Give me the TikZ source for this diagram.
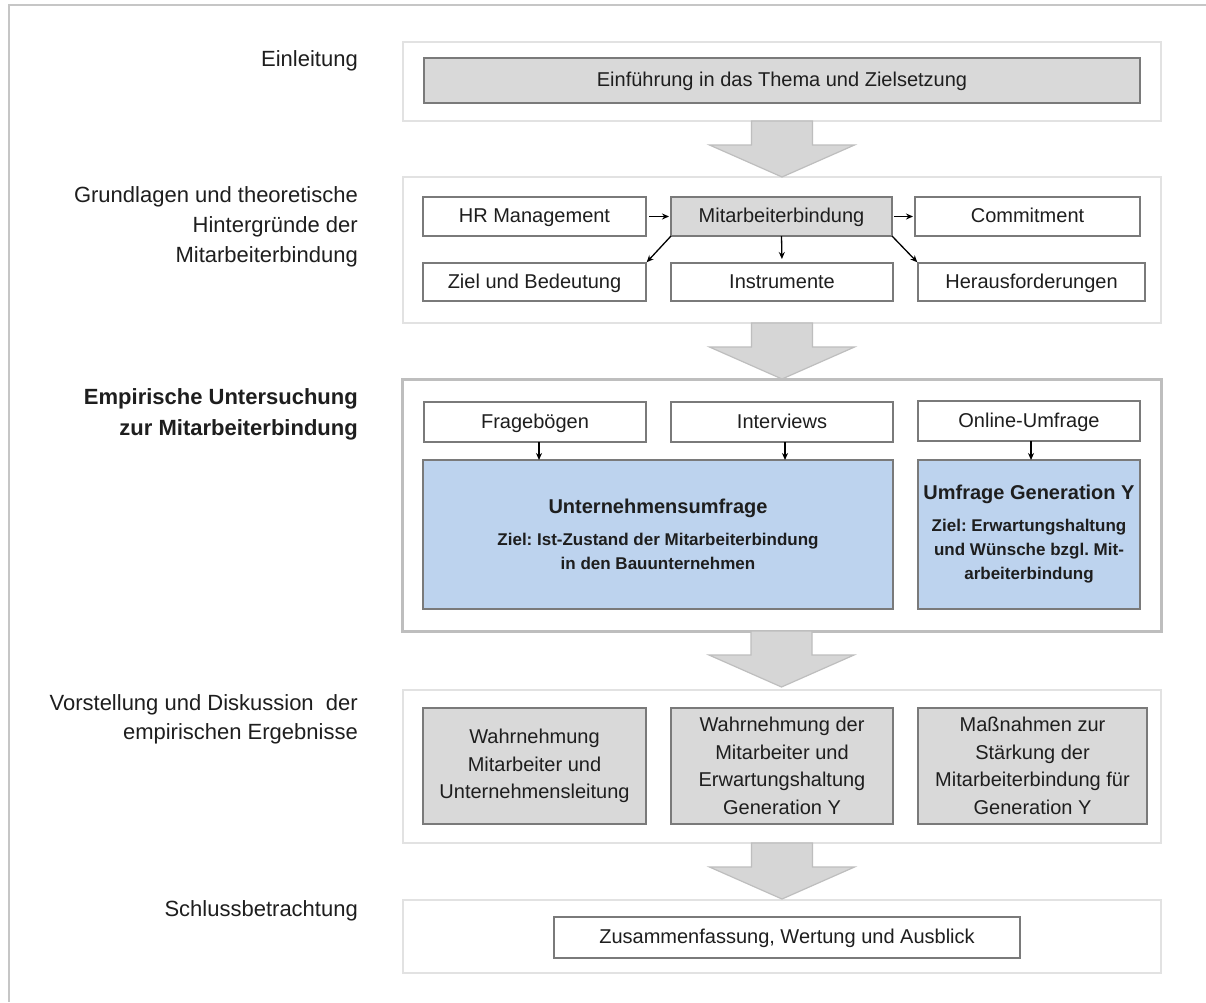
\documentclass[tikz,border=0pt]{standalone}
\usepackage{fontspec}
\setmainfont{Liberation Sans}
\usetikzlibrary{arrows.meta}
\frenchspacing
\definecolor{boxgray}{HTML}{D9D9D9}
\definecolor{boxline}{HTML}{7A7A7A}
\definecolor{contline}{HTML}{E2E2E2}
\definecolor{empline}{HTML}{BEBEBE}
\definecolor{bluefill}{HTML}{BDD3EE}
\definecolor{framegray}{HTML}{C6C6C6}
\definecolor{arrowfill}{HTML}{D6D6D6}
\definecolor{arrowline}{HTML}{BEBEBE}
\definecolor{txt}{HTML}{1E1E1E}
\begin{document}
\begin{tikzpicture}[x=1pt,y=-1pt,
  wbox/.style={draw=boxline, line width=1.3pt, fill=white, inner sep=0pt, outer sep=0pt,
    align=center, font=\fontsize{20}{27.5}\selectfont, text=txt},
  sline/.style={text height=14.4pt, text depth=1.5pt},
  gbox/.style={wbox, fill=boxgray},
  bbox/.style={wbox, fill=bluefill, font=\fontsize{17}{24}\selectfont\bfseries},
  cont/.style={draw=contline, line width=1.5pt, fill=white, inner sep=0pt, outer sep=0pt},
  lab/.style={anchor=east, align=right, inner sep=0pt, text=txt, font=\fontsize{22}{30}\selectfont},
  conn/.style={-{Stealth[length=7pt,width=6pt]}, line width=1.3pt, black},
  bigarrow/.pic={\draw[draw=arrowline, fill=arrowfill, line width=1.2pt, line join=miter]
    (-30.5,0) -- (30.5,0) -- (30.5,24) -- (72.5,24) -- (0,56) -- (-72.5,24) -- (-30.5,24) -- cycle;}
]
\useasboundingbox (0,0) rectangle (1206,1002);
\fill[white] (0,0) rectangle (1206,1002);
% outer frame (top and left only)
\coordinate (fTL) at (9,4.7);
\coordinate (fTR) at (1206,4.7);
\coordinate (fBL) at (9,1002);
\draw[framegray, line width=2pt] (fTR) -- (fTL) -- (fBL);

% section containers
\node[cont, minimum width=758pt, minimum height=79pt] (s1) at (782,81.5) {};
\node[cont, minimum width=758pt, minimum height=146pt] (s2) at (782,250) {};
\node[cont, draw=empline, line width=3pt, minimum width=759pt, minimum height=252pt] (s3) at (781.5,505) {};
\node[cont, minimum width=758pt, minimum height=153pt] (s4) at (782,766.5) {};
\node[cont, minimum width=758pt, minimum height=73pt] (s5) at (782,936.5) {};

% big arrows between sections
\pic at (s1.south) {bigarrow};
\pic at (s2.south) {bigarrow};
\pic at (s3.south) {bigarrow};
\pic at (s4.south) {bigarrow};

% left labels
\node[lab] (l1) at (358,61) {Einleitung};
\node[lab] (l2) at (358,227) {Grundlagen und theoretische\\Hintergründe der\\Mitarbeiterbindung};
\node[lab, font=\fontsize{22}{31}\selectfont\bfseries] (l3) at (358,414) {Empirische Untersuchung\\zur Mitarbeiterbindung};
\node[lab, font=\fontsize{22}{29}\selectfont] (l4) at (358,719) {Vorstellung und Diskussion\ \ der\\empirischen Ergebnisse};
\node[lab] (l5) at (358,911) {Schlussbetrachtung};

% section 1
\node[gbox, sline, minimum width=716pt, minimum height=45pt] (e1) at (782,80.5) {Einführung in das Thema und Zielsetzung};

% section 2
\node[wbox, sline, minimum width=223pt, minimum height=39pt] (hr) at (534.5,216.5) {HR Management};
\node[gbox, sline, minimum width=221pt, minimum height=39pt] (mab) at (781.5,216.5) {Mitarbeiterbindung};
\node[wbox, sline, minimum width=225pt, minimum height=39pt] (com) at (1027.5,216.5) {Commitment};
\node[wbox, sline, minimum width=223pt, minimum height=38pt] (ziel) at (534.5,282) {Ziel und Bedeutung};
\node[wbox, sline, minimum width=222pt, minimum height=38pt] (ins) at (782,282) {Instrumente};
\node[wbox, sline, minimum width=227pt, minimum height=38pt] (her) at (1031.5,282) {Herausforderungen};
\draw[conn, shorten <=3pt, shorten >=2pt] (hr.east) -- (mab.west);
\draw[conn, shorten <=2pt, shorten >=2pt] (mab.east) -- (com.west);
\draw[conn, shorten >=4pt] (mab.south) -- (ins.north);
\draw[conn, shorten >=1pt] (mab.south west) -- (ziel.north east);
\draw[conn, shorten >=1pt] (mab.south east) -- (her.north west);

% section 3
\node[wbox, sline, minimum width=222pt, minimum height=40pt] (frb) at (535,422) {Fragebögen};
\node[wbox, sline, minimum width=222pt, minimum height=40pt] (intv) at (782,422) {Interviews};
\node[wbox, sline, minimum width=222pt, minimum height=40pt] (onl) at (1029,421) {Online-Umfrage};
\node[bbox, minimum width=470pt, minimum height=149pt] (uu) at (658,534.5)
  {{\fontsize{20}{24}\selectfont Unternehmensumfrage}\\[8pt]Ziel: Ist-Zustand der Mitarbeiterbindung\\in den Bauunternehmen};
\node[bbox, minimum width=222pt, minimum height=149pt] (gy) at (1029,534.5)
  {{\fontsize{20}{24}\selectfont Umfrage Generation Y}\\[8pt]Ziel: Erwartungshaltung\\und Wünsche bzgl. Mit-\\arbeiterbindung};
\draw[conn] ([xshift=4pt]frb.south) -- ([xshift=4pt]frb.south |- uu.north);
\draw[conn] ([xshift=3pt]intv.south) -- ([xshift=3pt]intv.south |- uu.north);
\draw[conn] ([xshift=2pt]onl.south) -- ([xshift=2pt]onl.south |- gy.north);

% section 4
\node[gbox, minimum width=223pt, minimum height=116pt] (w1) at (534.5,766) {Wahrnehmung\\Mitarbeiter und\\Unternehmensleitung};
\node[gbox, minimum width=222pt, minimum height=116pt] (w2) at (782,766) {Wahrnehmung der\\Mitarbeiter und\\Erwartungshaltung\\Generation Y};
\node[gbox, minimum width=229pt, minimum height=116pt] (w3) at (1032.5,766) {Maßnahmen zur\\Stärkung der\\Mitarbeiterbindung für\\Generation Y};

% section 5
\node[wbox, sline, minimum width=466pt, minimum height=41pt] (zus) at (787,937.5) {Zusammenfassung, Wertung und Ausblick};
\end{tikzpicture}
\end{document}
